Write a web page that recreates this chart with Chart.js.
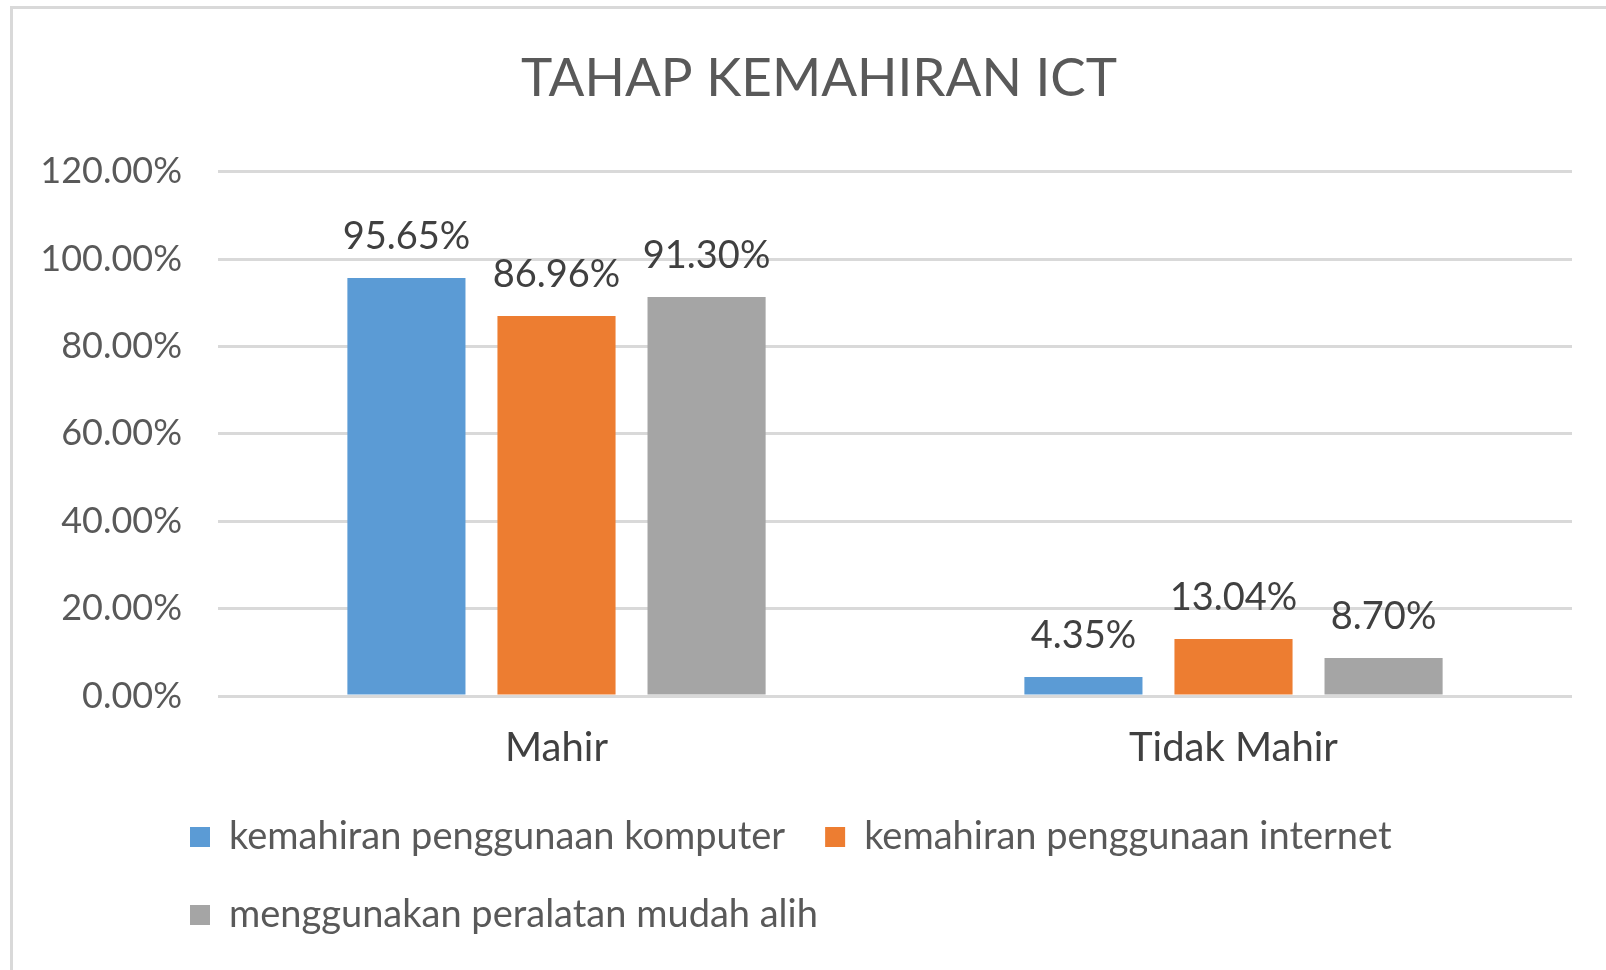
<!DOCTYPE html>
<html lang="ms">
<head>
<meta charset="UTF-8">
<title>Tahap Kemahiran ICT</title>
<script src="https://cdn.jsdelivr.net/npm/chart.js"></script>
<style>

body {
  margin: 0;
  overflow: hidden;
  background: #fff;
}

#bingkai {
  position: absolute;
  left: 10px;
  top: 6px;
  width: 2000px;
  height: 2000px;
  border-top: 3px solid #d9d9d9;
  border-left: 3px solid #d9d9d9;
}

#kotak {
  position: absolute;
  left: 0;
  top: 0;
  width: 1606px;
  height: 970px;
}

</style>
</head>
<body>

<div id="bingkai"></div>
<div id="kotak"><canvas id="carta"></canvas></div>

<script>

  // data dibaca dari gambar asal
  const kategori = ['Mahir', 'Tidak Mahir'];
  const siri = ['kemahiran penggunaan komputer', 'kemahiran penggunaan internet', 'menggunakan peralatan mudah alih'];
  const komputer = [95.65, 4.35];
  const internet = [86.96, 13.04];
  const mudahAlih = [91.30, 8.70];
  const warna = ['#5b9bd5', '#ed7d31', '#a5a5a5'];
  const paksiY = { min: 0, max: 120, langkah: 20 };

  const fon = 'Lato, "Open Sans", sans-serif';

  // label peratus di atas setiap bar
  const labelAtas = {
    id: 'labelAtas',
    afterDatasetsDraw(chart) {
      const ctx = chart.ctx;
      ctx.save();
      ctx.font = '38px ' + fon;
      ctx.fillStyle = '#404040';
      ctx.textAlign = 'center';
      ctx.textBaseline = 'middle';
      chart.data.datasets.forEach((ds, i) => {
        chart.getDatasetMeta(i).data.forEach((bar, j) => {
          ctx.fillText(ds.data[j].toFixed(2) + '%', bar.x, bar.y - 41);
        });
      });
      ctx.restore();
    }
  };

  // tajuk di tengah bingkai, legenda sejajar dengan kotak biru asal
  const aturLetak = {
    id: 'aturLetak',
    afterLayout(chart) {
      chart.titleBlock.left += 33;
      chart.titleBlock.right += 33;
      chart.legend.left = 150;
    }
  };

  const dataCarta = {
    labels: kategori,
    datasets: [
      { label: siri[0], data: komputer, backgroundColor: warna[0] },
      { label: siri[1], data: internet, backgroundColor: warna[1] },
      { label: siri[2], data: mudahAlih, backgroundColor: warna[2] }
    ]
  };

  const config = {
    type: 'bar',
    data: dataCarta,
    options: {
      responsive: true,
      maintainAspectRatio: false,
      animation: false,
      categoryPercentage: 0.665,
      barPercentage: 0.787,
      layout: { padding: { left: 0, right: 34, top: 0, bottom: 26 } },
      plugins: {
        title: {
          display: true,
          text: 'TAHAP KEMAHIRAN ICT',
          color: '#595959',
          font: { family: fon, size: 53, weight: 'normal' },
          padding: { top: 47, bottom: 61 }
        },
        legend: {
          position: 'bottom',
          align: 'start',
          labels: {
            color: '#595959',
            font: { family: fon, size: 38 },
            boxWidth: 20,
            boxHeight: 20,
            padding: 40
          }
        },
        tooltip: { enabled: false }
      },
      scales: {
        x: {
          grid: { display: false },
          border: { display: false },
          ticks: { color: '#404040', font: { family: fon, size: 40 }, padding: 20 },
          afterFit: s => { s.height -= 14; }
        },
        y: {
          min: paksiY.min,
          max: paksiY.max,
          border: { display: false },
          grid: { color: '#d9d9d9', lineWidth: 3, drawTicks: false },
          ticks: {
            stepSize: paksiY.langkah,
            color: '#595959',
            font: { family: fon, size: 36 },
            padding: 36,
            callback: v => v.toFixed(2) + '%'
          },
          afterFit: s => { s.width = 218; }
        }
      }
    },
    plugins: [labelAtas, aturLetak]
  };

  const myChart = new Chart(document.getElementById('carta'), config);

</script>

</body>
</html>
